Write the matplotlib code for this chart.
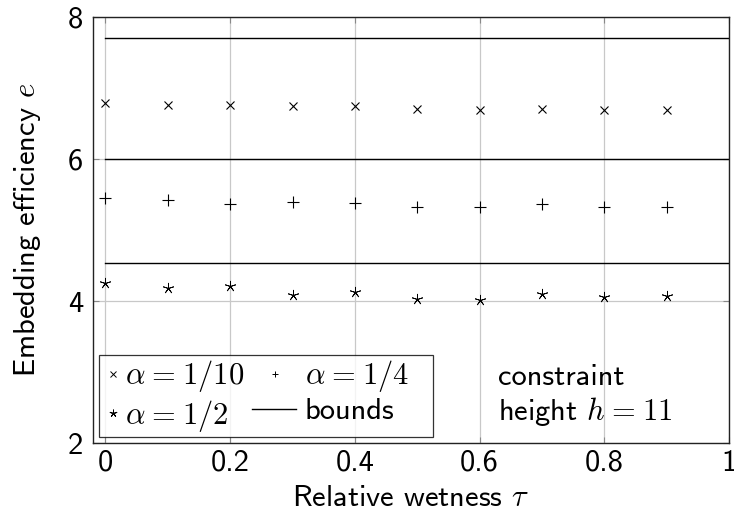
import matplotlib
matplotlib.use("Agg")
import matplotlib.pyplot as plt
from matplotlib.lines import Line2D
from matplotlib.legend_handler import HandlerBase

plt.rcParams['font.family'] = ['cmss10', 'DejaVu Sans']
plt.rcParams['mathtext.fontset'] = 'cm'
plt.rcParams['axes.unicode_minus'] = False

# data
tau = [0.0, 0.1, 0.2, 0.3, 0.4, 0.5, 0.6, 0.7, 0.8, 0.9]
e_a10 = [6.79, 6.76, 6.76, 6.74, 6.74, 6.71, 6.69, 6.70, 6.69, 6.69]
e_a4 = [5.45, 5.42, 5.37, 5.39, 5.38, 5.33, 5.32, 5.36, 5.33, 5.33]
e_a2 = [4.26, 4.18, 4.21, 4.09, 4.13, 4.03, 4.02, 4.10, 4.05, 4.07]
bounds = [7.70, 6.00, 4.54]
bound_x = [0.0, 1.0]
xticks = [0, 0.2, 0.4, 0.6, 0.8, 1]
xticklabels = ['0', '0.2', '0.4', '0.6', '0.8', '1']
yticks = [2, 4, 6, 8]
yticklabels = ['2', '4', '6', '8']

FS = 22

fig = plt.figure(figsize=(7.34, 5.14), dpi=100)
ax = fig.add_axes([93/734, 1-443/514, (729-93)/734, (443-17)/514])

ax.set_xlim(-0.02, 1.0)
ax.set_ylim(2, 8)
ax.set_xticks(xticks)
ax.set_xticklabels(xticklabels)
ax.set_yticks(yticks)
ax.set_yticklabels(yticklabels)
ax.grid(True, color='#c8c8c8', linewidth=0.9)
ax.set_axisbelow(True)
ax.tick_params(direction='in', length=4, width=0.8, color='#888888',
               top=True, right=True, labelsize=FS)
ax.tick_params(axis='y', pad=7)
ax.tick_params(axis='x', pad=5)
for s in ax.spines.values():
    s.set_linewidth(1.0)
    s.set_color('#222222')

for b in bounds:
    ax.plot(bound_x, [b, b], color='black', linewidth=1.0)

ax.plot(tau, e_a10, linestyle='none', marker='x', ms=5.5, mew=0.8, color='black')
ax.plot(tau, e_a4, linestyle='none', marker='+', ms=8, mew=0.8, color='black')
ax.plot(tau, e_a2, linestyle='none', marker=(5, 2, 0), ms=8, mew=0.6, color='black')


class ShiftedHandler(HandlerBase):
    """Legend handle drawn partly to the left of its handle box (points)."""
    def __init__(self, kind, x0=0.0, x1=0.0, **kw):
        super().__init__(**kw)
        self.kind = kind
        self.x0 = x0
        self.x1 = x1

    def create_artists(self, legend, orig_handle, xdescent, ydescent,
                       width, height, fontsize, trans):
        y = height / 2 - ydescent
        if self.kind == 'line':
            art = Line2D([self.x0 - xdescent, width - self.x1 - xdescent], [y, y],
                         color=orig_handle.get_color(),
                         linewidth=orig_handle.get_linewidth())
        else:
            art = Line2D([self.x0 - xdescent], [y], linestyle='none',
                         marker=orig_handle.get_marker(),
                         ms=orig_handle.get_markersize(),
                         mew=orig_handle.get_markeredgewidth(),
                         color=orig_handle.get_color())
        art.set_transform(trans)
        return [art]


h10 = Line2D([], [], linestyle='none', marker='x', ms=3.8, mew=0.7, color='black')
h2 = Line2D([], [], linestyle='none', marker=(5, 2, 0), ms=5.5, mew=0.7, color='black')
h4 = Line2D([], [], linestyle='none', marker='+', ms=5, mew=0.7, color='black')
hb = Line2D([], [], color='black', linewidth=1.0)

sp = r'\hspace{0.06}'
handles = [h10, h2, h4, hb]
labels = [r'$\alpha' + sp + '=' + sp + r'\mathsf{1/10}$',
          r'$\alpha' + sp + '=' + sp + r'\mathsf{1/2}$',
          r'$\alpha' + sp + '=' + sp + r'\mathsf{1/4}$' + '   ',
          'bounds']
leg = ax.legend(handles, labels, ncol=2, loc='lower left', fontsize=FS,
                frameon=True, fancybox=False, edgecolor='black',
                bbox_to_anchor=(6/636, 6/426), borderaxespad=0,
                handlelength=0.72, handletextpad=0.02,
                columnspacing=1.25, labelspacing=0.12, borderpad=0.1,
                handler_map={h4: ShiftedHandler('marker', x0=-5.0),
                             hb: ShiftedHandler('line', x0=-21.6, x1=5.8)})
leg.get_frame().set_linewidth(0.9)

ax.text(0.637, 0.153, 'constraint', transform=ax.transAxes, fontsize=FS,
        va='center', ha='left')
ax.text(0.637, 0.073, r'height $h' + sp + '=' + sp + r'\mathsf{11}$',
        transform=ax.transAxes, fontsize=FS, va='center', ha='left')

ax.set_xlabel(r'Relative wetness $\tau$', fontsize=FS, labelpad=6)
ax.set_ylabel(r'Embedding efficiency $e$', fontsize=FS, labelpad=18)

fig.savefig('out.png', dpi=100)
